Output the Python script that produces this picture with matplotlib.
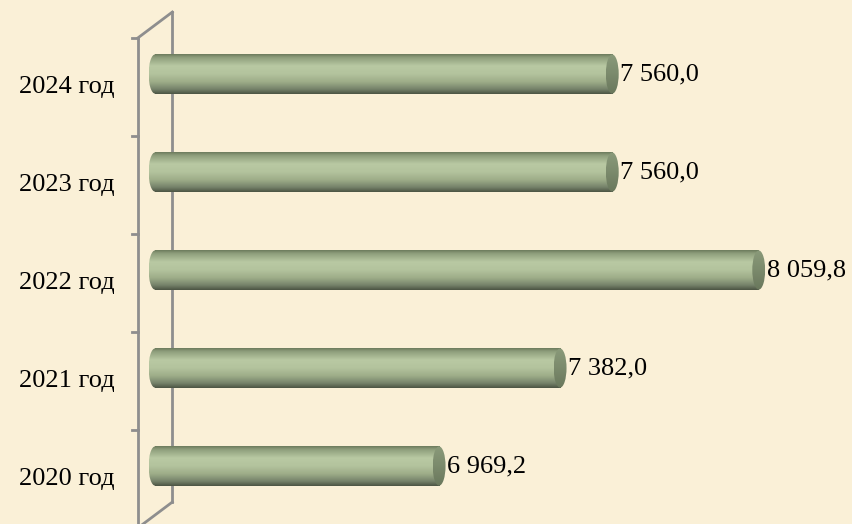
import numpy as np
import matplotlib.pyplot as plt
from matplotlib.patches import Ellipse
from matplotlib.colors import LinearSegmentedColormap

# данные
years = ['2020 год', '2021 год', '2022 год', '2023 год', '2024 год']
values = [6969.2, 7382.0, 8059.8, 7560.0, 7560.0]

plt.rcParams['font.family'] = ['Liberation Serif', 'DejaVu Serif']

BG = '#faf0d7'
AXIS_C = '#8e8e8e'

# оформление "3D" цилиндров
x_base = 6000          # начало шкалы
depth_x = 118          # глубина стенки по x (в единицах данных)
depth_y = 0.265        # глубина стенки по y (в долях категории)
bar_h = 0.40
cap_w = 44             # ширина эллипса торца

body_cmap = LinearSegmentedColormap.from_list('body', [
    (0.0, '#6c7a5c'), (0.08, '#8d9d7b'), (0.30, '#b9c9a3'),
    (0.50, '#b3c39d'), (0.70, '#9dac88'), (0.88, '#75826a'), (1.0, '#4b5443')])
cap_cmap = LinearSegmentedColormap.from_list('cap', ['#8a9a7a', '#7b8a6c', '#69775c'])
grad = np.linspace(0, 1, 256).reshape(-1, 1)

fig = plt.figure(figsize=(8.52, 5.24), dpi=100, facecolor=BG)
ax = fig.add_axes([0, 0, 1, 1])
ax.set_facecolor(BG)
ax.axis('off')

n = len(years)
y = np.arange(n)
x_front = x_base - depth_x / 2
x_back = x_base + depth_x / 2

# оси: передняя линия, задняя стенка, скосы
ax.plot([x_front, x_front], [-0.5 - 0.3, n - 0.5], color=AXIS_C, lw=2, zorder=1, solid_capstyle='butt')
ax.plot([x_back, x_back], [-0.5 + depth_y, n - 0.5 + depth_y], color=AXIS_C, lw=2, zorder=1)
ax.plot([x_front, x_back], [n - 0.5, n - 0.5 + depth_y], color=AXIS_C, lw=2, zorder=1)
ax.plot([x_front, x_back], [-0.5, -0.5 + depth_y], color=AXIS_C, lw=2, zorder=1)
for t in np.arange(n + 1) - 0.5:
    ax.plot([x_front - 20, x_front], [t, t], color=AXIS_C, lw=2, zorder=1)

for yi, v, lab in zip(y, values, years):
    yc = yi + depth_y / 2
    y0, y1 = yc - bar_h / 2, yc + bar_h / 2
    # тело цилиндра
    ax.imshow(grad, cmap=body_cmap, extent=(x_base, v, y0, y1), aspect='auto',
              origin='upper', zorder=2, interpolation='bilinear')
    # левый скруглённый край
    e_left = Ellipse((x_base, yc), cap_w, bar_h, facecolor='none', edgecolor='none')
    ax.add_patch(e_left)
    im = ax.imshow(grad, cmap=body_cmap, extent=(x_base - cap_w / 2, x_base + 1, y0, y1),
                   aspect='auto', origin='upper', zorder=2, interpolation='bilinear')
    im.set_clip_path(e_left)
    # правый торец
    e_right = Ellipse((v, yc), cap_w, bar_h, facecolor='none', edgecolor='none')
    ax.add_patch(e_right)
    im = ax.imshow(grad, cmap=cap_cmap, extent=(v - cap_w / 2, v + cap_w / 2, y0, y1),
                   aspect='auto', origin='upper', zorder=3, interpolation='bilinear')
    im.set_clip_path(e_right)
    # подписи значений
    txt = f'{v:,.1f}'.replace(',', ' ').replace('.', ',')
    ax.text(v + cap_w / 2 + 6, yc, txt, fontsize=19, va='center', ha='left', zorder=4)
    # подписи категорий
    ax.text(x_front - 80, yi, lab, fontsize=19, va='center', ha='right', zorder=4)

ax.set_xlim(5471, 8378)
ax.set_ylim(-0.459, 4.888)

fig.savefig('out.png', dpi=100, facecolor=BG)
